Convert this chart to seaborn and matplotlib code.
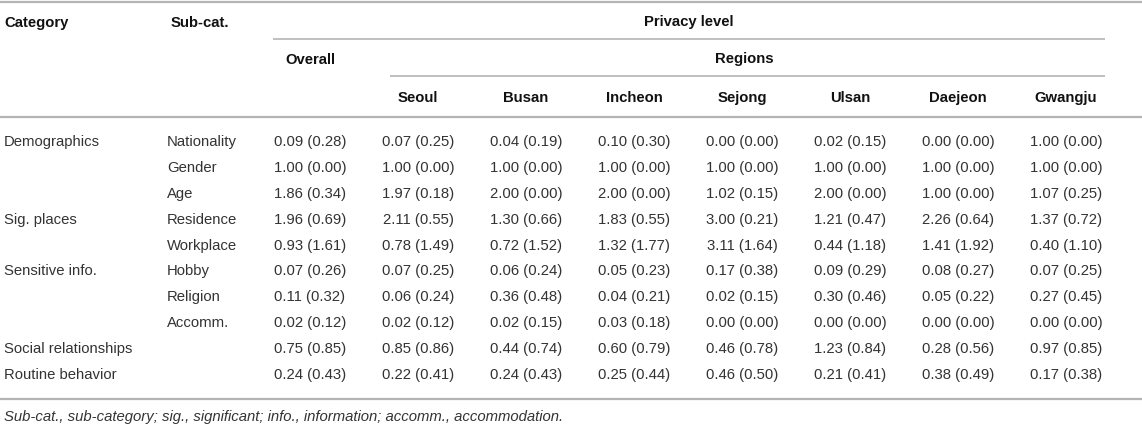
#!/usr/bin/env python3
"""Privacy level table: mean (SD) by category and region."""

import matplotlib
matplotlib.use("Agg")
import matplotlib.pyplot as plt
import seaborn as sns

# Table content.
CATEGORIES = ["Demographics", "", "", "Sig. places", "", "Sensitive info.", "", "",
              "Social relationships", "Routine behavior"]
SUB_CATS = ["Nationality", "Gender", "Age", "Residence", "Workplace",
            "Hobby", "Religion", "Accomm.", "", ""]
COLUMNS = ["Overall", "Seoul", "Busan", "Incheon", "Sejong", "Ulsan", "Daejeon", "Gwangju"]

OVERALL = [(0.09, 0.28), (1.00, 0.00), (1.86, 0.34), (1.96, 0.69), (0.93, 1.61),
           (0.07, 0.26), (0.11, 0.32), (0.02, 0.12), (0.75, 0.85), (0.24, 0.43)]
SEOUL = [(0.07, 0.25), (1.00, 0.00), (1.97, 0.18), (2.11, 0.55), (0.78, 1.49),
         (0.07, 0.25), (0.06, 0.24), (0.02, 0.12), (0.85, 0.86), (0.22, 0.41)]
BUSAN = [(0.04, 0.19), (1.00, 0.00), (2.00, 0.00), (1.30, 0.66), (0.72, 1.52),
         (0.06, 0.24), (0.36, 0.48), (0.02, 0.15), (0.44, 0.74), (0.24, 0.43)]
INCHEON = [(0.10, 0.30), (1.00, 0.00), (2.00, 0.00), (1.83, 0.55), (1.32, 1.77),
           (0.05, 0.23), (0.04, 0.21), (0.03, 0.18), (0.60, 0.79), (0.25, 0.44)]
SEJONG = [(0.00, 0.00), (1.00, 0.00), (1.02, 0.15), (3.00, 0.21), (3.11, 1.64),
          (0.17, 0.38), (0.02, 0.15), (0.00, 0.00), (0.46, 0.78), (0.46, 0.50)]
ULSAN = [(0.02, 0.15), (1.00, 0.00), (2.00, 0.00), (1.21, 0.47), (0.44, 1.18),
         (0.09, 0.29), (0.30, 0.46), (0.00, 0.00), (1.23, 0.84), (0.21, 0.41)]
DAEJEON = [(0.00, 0.00), (1.00, 0.00), (1.00, 0.00), (2.26, 0.64), (1.41, 1.92),
           (0.08, 0.27), (0.05, 0.22), (0.00, 0.00), (0.28, 0.56), (0.38, 0.49)]
GWANGJU = [(1.00, 0.00), (1.00, 0.00), (1.07, 0.25), (1.37, 0.72), (0.40, 1.10),
           (0.07, 0.25), (0.27, 0.45), (0.00, 0.00), (0.97, 0.85), (0.17, 0.38)]

FOOTNOTE = ("Sub-cat., sub-category; sig., significant; info., information; "
            "accomm., accommodation.")


def main() -> None:
    sns.set_theme(style="white")
    plt.rcParams["font.family"] = ["Liberation Sans", "DejaVu Sans"]

    W, H = 1142, 427
    fig = plt.figure(figsize=(W / 100, H / 100), dpi=100)
    ax = fig.add_axes([0, 0, 1, 1])
    ax.set_xlim(0, W)
    ax.set_ylim(H, 0)
    ax.axis("off")

    fs = 10.7
    line_color = "#b4b4b4"
    text_color = "#333333"
    x_cat, x_sub = 4, 167
    col_x = [310 + 108 * i for i in range(len(COLUMNS))]

    # Horizontal rules.
    ax.hlines(3, 0, W, color=line_color, lw=1.6)
    ax.hlines(39.5, 273, 1105, color=line_color, lw=1.2)
    ax.hlines(77, 390, 1105, color=line_color, lw=1.2)
    ax.hlines(118, 0, W, color=line_color, lw=1.6)
    ax.hlines(400, 0, W, color=line_color, lw=1.6)

    # Header.
    hdr = dict(fontsize=fs, fontweight="bold", color="#111111", va="center")
    ax.text(x_cat, 23, "Category", ha="left", **hdr)
    ax.text(x_sub + 4, 23, "Sub-cat.", ha="left", **hdr)
    ax.text(689, 22, "Privacy level", ha="center", **hdr)
    ax.text(col_x[0], 60, COLUMNS[0], ha="center", **hdr)
    ax.text(744, 59, "Regions", ha="center", **hdr)
    for x, name in zip(col_x[1:], COLUMNS[1:]):
        ax.text(x, 98, name, ha="center", **hdr)

    # Body.
    columns = [OVERALL, SEOUL, BUSAN, INCHEON, SEJONG, ULSAN, DAEJEON, GWANGJU]
    body = dict(fontsize=fs, color=text_color, va="center")
    for i, (cat, sub) in enumerate(zip(CATEGORIES, SUB_CATS)):
        y = 142 + 25.9 * i
        if cat:
            ax.text(x_cat, y, cat, ha="left", **body)
        if sub:
            ax.text(x_sub, y, sub, ha="left", **body)
        for x, col in zip(col_x, columns):
            m, s = col[i]
            ax.text(x, y, f"{m:.2f} ({s:.2f})", ha="center", **body)

    ax.text(x_cat, 417, FOOTNOTE, ha="left", va="center", fontsize=fs,
            style="italic", color=text_color)

    fig.savefig("out.png", dpi=100)


if __name__ == "__main__":
    main()
